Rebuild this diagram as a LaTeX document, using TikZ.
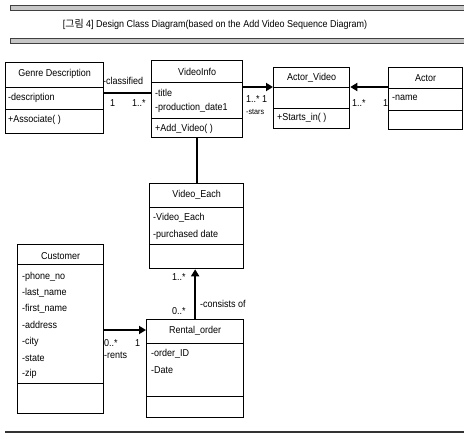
\documentclass[tikz,border=0pt]{standalone}
\usepackage{fontspec}
\setmainfont{Liberation Sans}[FakeStretch=0.9]
\newfontfamily\krfont{Noto Sans CJK KR}
\usetikzlibrary{arrows.meta,calc}
\begin{document}
\begin{tikzpicture}[x=1pt,y=-1pt, font=\fontsize{10}{12}\selectfont,
  cls/.style={draw, line width=1.3pt, inner sep=0pt, anchor=north west},
  sep/.style={line width=0.8pt},
  lbl/.style={inner sep=0pt, anchor=west},
  attr/.style={inner sep=0pt, anchor=west},
  cname/.style={inner sep=0pt},
  band/.style={fill=gray!45, draw=black!75, line width=0.6pt},
  assoc/.style={line width=2.2pt},
  plain/.style={line width=1.4pt},
  nav/.style={line width=2.4pt, -{Triangle[length=7pt,width=8pt]}}
]
\useasboundingbox (0,0) rectangle (464,434);

% header bands and title
\path[band] (10,5) rectangle (464,10);
\path[band] (10,38) rectangle (464,43);
\node[cname] (title) at (215,24) {[{\krfont 그림} 4] Design Class Diagram(based on the Add Video Sequence Diagram)};
\draw[line width=1.2pt, black!80] (5,432) -- (464,432);

% Genre Description
\node[cls, minimum width=98pt, minimum height=71pt] (genre) at (5,62) {};
\draw[sep] ($(genre.north west)+(0,25)$) -- ($(genre.north east)+(0,25)$);
\draw[sep] ($(genre.north west)+(0,47)$) -- ($(genre.north east)+(0,47)$);
\node[cname] (genreT) at ($(genre.north)+(0,12)$) {Genre Description};
\node[attr] (genreA1) at ($(genre.north west)+(3,36)$) {-description};
\node[attr] (genreO1) at ($(genre.north west)+(3,58)$) {+Associate( )};

% VideoInfo
\node[cls, minimum width=91pt, minimum height=77pt] (vinfo) at (151,60) {};
\draw[sep] ($(vinfo.north west)+(0,22)$) -- ($(vinfo.north east)+(0,22)$);
\draw[sep] ($(vinfo.north west)+(0,58)$) -- ($(vinfo.north east)+(0,58)$);
\node[cname] (vinfoT) at ($(vinfo.north)+(0,12)$) {VideoInfo};
\node[attr] (vinfoA1) at ($(vinfo.north west)+(4,33)$) {-title};
\node[attr] (vinfoA2) at ($(vinfo.north west)+(4,48)$) {-production\_date1};
\node[attr] (vinfoO1) at ($(vinfo.north west)+(4,69)$) {+Add\_Video( )};

% Actor_Video
\node[cls, minimum width=76pt, minimum height=61pt] (av) at (273,67) {};
\draw[sep] ($(av.north west)+(0,20)$) -- ($(av.north east)+(0,20)$);
\draw[sep] ($(av.north west)+(0,41)$) -- ($(av.north east)+(0,41)$);
\node[cname] (avT) at ($(av.north)+(0,11)$) {Actor\_Video};
\node[attr] (avO1) at ($(av.north west)+(4,51)$) {+Starts\_in( )};

% Actor
\node[cls, minimum width=74pt, minimum height=62pt] (actor) at (388,67) {};
\draw[sep] ($(actor.north west)+(0,21)$) -- ($(actor.north east)+(0,21)$);
\draw[sep] ($(actor.north west)+(0,43)$) -- ($(actor.north east)+(0,43)$);
\node[cname] (actorT) at ($(actor.north)+(0,11)$) {Actor};
\node[attr] (actorA1) at ($(actor.north west)+(4,31)$) {-name};

% Video_Each
\node[cls, minimum width=94pt, minimum height=85pt] (veach) at (149,183) {};
\draw[sep] ($(veach.north west)+(0,24)$) -- ($(veach.north east)+(0,24)$);
\draw[sep] ($(veach.north west)+(0,61)$) -- ($(veach.north east)+(0,61)$);
\node[cname] (veachT) at ($(veach.north)+(0,12)$) {Video\_Each};
\node[attr] (veachA1) at ($(veach.north west)+(4,35)$) {-Video\_Each};
\node[attr] (veachA2) at ($(veach.north west)+(4,52)$) {-purchased date};

% Customer
\node[cls, minimum width=86pt, minimum height=169pt] (cust) at (17,244) {};
\draw[sep] ($(cust.north west)+(0,20)$) -- ($(cust.north east)+(0,20)$);
\draw[sep] ($(cust.north west)+(0,139)$) -- ($(cust.north east)+(0,139)$);
\node[cname] (custT) at ($(cust.north)+(0,12)$) {Customer};
\node[attr] (custA1) at ($(cust.north west)+(5,33)$) {-phone\_no};
\node[attr] (custA2) at ($(cust.north west)+(5,49)$) {-last\_name};
\node[attr] (custA3) at ($(cust.north west)+(5,65)$) {-first\_name};
\node[attr] (custA4) at ($(cust.north west)+(5,81)$) {-address};
\node[attr] (custA5) at ($(cust.north west)+(5,98)$) {-city};
\node[attr] (custA6) at ($(cust.north west)+(5,114)$) {-state};
\node[attr] (custA7) at ($(cust.north west)+(5,130)$) {-zip};

% Rental_order
\node[cls, minimum width=97pt, minimum height=98pt] (rental) at (146,319) {};
\draw[sep] ($(rental.north west)+(0,24)$) -- ($(rental.north east)+(0,24)$);
\draw[sep] ($(rental.north west)+(0,77)$) -- ($(rental.north east)+(0,77)$);
\node[cname] (rentalT) at ($(rental.north)+(0,12)$) {Rental\_order};
\node[attr] (rentalA1) at ($(rental.north west)+(5,35)$) {-order\_ID};
\node[attr] (rentalA2) at ($(rental.north west)+(5,51)$) {-Date};

% connectors
\draw[assoc] ($(genre.north east)+(0,31)$) -- ($(vinfo.north west)+(0,33)$);
\draw[nav] ($(vinfo.north east)+(0,27)$) -- ($(av.north west)+(0,20)$);
\draw[nav] ($(actor.north west)+(0,20)$) -- ($(av.north east)+(0,20)$);
\draw[plain] (vinfo.south) -- (vinfo.south |- veach.north);
\draw[nav] (rental.north) -- (rental.north |- veach.south);
\draw[nav] ($(cust.north east)+(0,86)$) -- ($(rental.north west)+(0,11)$);

% connector labels
\node[lbl] (l1) at (103,81) {-classified};
\node[lbl] (l2) at (110,103) {1};
\node[lbl] (l3) at (132,103) {1..*};
\node[lbl] (l4) at (246,99) {1..*\ 1};
\node[lbl, font=\fontsize{8}{9}\selectfont] (l5) at (246,112) {-stars};
\node[lbl] (l6) at (352,103) {1..*};
\node[lbl] (l7) at (383,103) {1};
\node[lbl] (l8) at (104,343) {0..*};
\node[lbl] (l9) at (135,343) {1};
\node[lbl] (l10) at (104,355) {-rents};
\node[lbl] (l11) at (172,277) {1..*};
\node[lbl] (l12) at (172,311) {0..*};
\node[lbl] (l13) at (200,304) {-consists of};
\end{tikzpicture}
\end{document}
